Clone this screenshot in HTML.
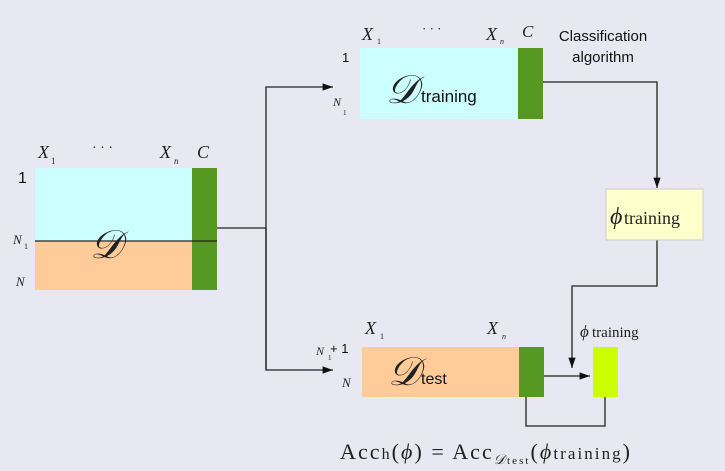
<!DOCTYPE html>
<html><head><meta charset="utf-8"><style>
html,body{margin:0;padding:0;background:#e8e8f2;}
svg{display:block;}
.it{font-family:"Liberation Serif",serif;font-style:italic;fill:#222;}
.sans{font-family:"Liberation Sans",sans-serif;fill:#111;}
.ser{font-family:"Liberation Serif",serif;fill:#222;}
</style></head><body>
<svg width="725" height="471" viewBox="0 0 725 471">
<defs><marker id="ah" viewBox="0 0 10 10" refX="10" refY="5" markerWidth="8" markerHeight="8" orient="auto"><path d="M0,1.5 L10,5 L0,8.5 z" fill="#111"/></marker></defs>

<g>
<rect x="35" y="168" width="157" height="73" fill="#ccffff"/>
<rect x="35" y="241" width="157" height="49" fill="#ffcc99"/>
<rect x="192" y="168" width="25" height="122" fill="#559922"/>
<line x1="35" y1="241" x2="217" y2="241" stroke="#222" stroke-width="1.2"/>
<text x="90" y="258" class="it" font-size="40">𝒟</text>
<text x="38" y="158" class="it" font-size="18">X</text><text x="51" y="164" class="ser" font-size="9">1</text>
<text x="92" y="152" class="ser" font-size="14">· · ·</text>
<text x="160" y="158" class="it" font-size="18">X</text><text x="174" y="164" class="it" font-size="9">n</text>
<text x="197" y="158" class="it" font-size="18">C</text>
<text x="18" y="183" class="sans" font-size="16">1</text>
<text x="13" y="244" class="it" font-size="13" fill="#555">N</text><text x="24" y="249" class="ser" font-size="8" fill="#a33">1</text>
<text x="16" y="286" class="it" font-size="13" fill="#555">N</text>
</g>

<g stroke="#222" stroke-width="1.3" fill="none">
<polyline points="217,228 266,228"/>
<polyline points="266,370 266,87 333,87" marker-end="url(#ah)"/>
<polyline points="266,228 266,370 333,370" marker-end="url(#ah)"/>
</g>

<g>
<rect x="360" y="48" width="158" height="71" fill="#ccffff"/>
<rect x="518" y="48" width="25" height="71" fill="#559922"/>
<text x="386" y="103" class="it" font-size="40">𝒟</text>
<text x="421" y="102" class="sans" font-size="17">training</text>
<text x="362" y="40" class="it" font-size="18" fill="#333">X</text><text x="377" y="44" class="ser" font-size="8">1</text>
<text x="422" y="33" class="ser" font-size="13">· · ·</text>
<text x="486" y="40" class="it" font-size="18" fill="#333">X</text><text x="500" y="44" class="it" font-size="8">n</text>
<text x="522" y="37" class="it" font-size="17" fill="#444">C</text>
<text x="342" y="62" class="sans" font-size="13" fill="#444">1</text>
<text x="333" y="106" class="it" font-size="12" fill="#666">N</text><text x="343" y="115" class="ser" font-size="7">1</text>
<text x="603" y="41" class="sans" font-size="15" text-anchor="middle">Classification</text>
<text x="603" y="62" class="sans" font-size="15" text-anchor="middle">algorithm</text>
</g>

<g stroke="#222" stroke-width="1.3" fill="none">
<polyline points="543,82 657,82 657,188" marker-end="url(#ah)"/>
<polyline points="657,240 657,286 572,286 572,368" marker-end="url(#ah)"/>
<polyline points="544,376 590,376" marker-end="url(#ah)"/>
<polyline points="526,397 526,426 605,426 605,397"/>
</g>

<g>
<rect x="606" y="189" width="97" height="51" fill="#ffffcc" stroke="#ccc" stroke-width="1"/>
<text x="610" y="224" class="it" font-size="24">ϕ</text>
<text x="624" y="224" class="ser" font-size="18">training</text>
</g>

<g>
<rect x="362" y="347" width="157" height="50" fill="#ffcc99"/>
<rect x="519" y="347" width="25" height="50" fill="#559922"/>
<text x="388" y="385" class="it" font-size="40">𝒟</text>
<text x="421" y="384" class="sans" font-size="16">test</text>
<text x="365" y="334" class="it" font-size="18" fill="#333">X</text><text x="380" y="339" class="ser" font-size="8">1</text>
<text x="487" y="334" class="it" font-size="18" fill="#333">X</text><text x="502" y="339" class="it" font-size="8">n</text>
<text x="316" y="355" class="it" font-size="12" fill="#666">N</text><text x="328" y="360" class="ser" font-size="7" fill="#a33">1</text>
<text x="330" y="353" class="sans" font-size="13" fill="#333">+ 1</text>
<text x="342" y="387" class="it" font-size="13" fill="#666">N</text>
</g>

<g>
<rect x="593" y="347" width="25" height="50" fill="#ccff00"/>
<text x="580" y="337" class="it" font-size="17" fill="#888">ϕ</text>
<text x="592" y="337" class="ser" font-size="15" fill="#888">training</text>
</g>

<g fill="#888">
<text x="340" y="459" class="ser" font-size="22" fill="#888" textLength="290" lengthAdjust="spacing">Acc<tspan font-size="16">h</tspan>(<tspan font-style="italic">ϕ</tspan>) = Acc<tspan font-size="14" font-style="italic" dy="5">𝒟</tspan><tspan font-size="11">test</tspan><tspan dy="-5">(</tspan><tspan font-style="italic">ϕ</tspan><tspan font-size="17">training</tspan>)</text>
</g>
</svg>
</body></html>
